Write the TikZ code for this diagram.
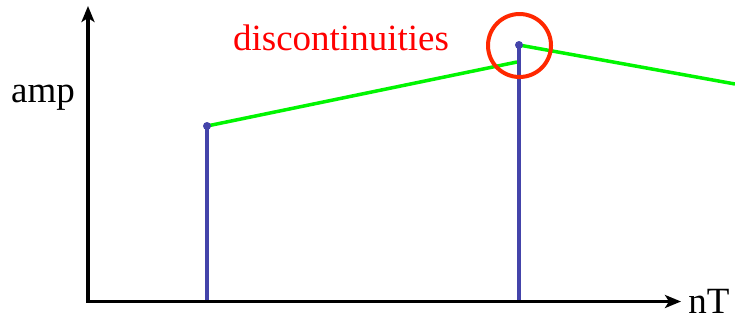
\documentclass[tikz,border=0pt]{standalone}
\usepackage{fontspec}
\setmainfont{Liberation Serif}
\usetikzlibrary{arrows.meta}
\definecolor{stemblue}{RGB}{68,68,170}
\definecolor{brightgreen}{RGB}{0,245,0}
\definecolor{circred}{RGB}{255,40,0}
\definecolor{txtred}{RGB}{255,0,0}
\begin{document}
\begin{tikzpicture}[x=1pt,y=-1pt,
  axis/.style={line width=3.5pt,-{Stealth[length=16pt,width=13pt,inset=4pt]}},
  stem/.style={line width=3.5pt,stemblue},
  seg/.style={line width=3.5pt,brightgreen},
  dotmark/.style={circle,fill=stemblue,inner sep=0pt,minimum size=8pt},
  lbl/.style={font=\fontsize{37}{44}\selectfont,anchor=base,inner sep=0pt}]
\useasboundingbox (0,0) rectangle (735,325);
\coordinate (O) at (88,301.5);
\coordinate (ytop) at (88,6);
\coordinate (xend) at (681,301.5);
\coordinate (b1) at (207,300);
\coordinate (b2) at (519,300);
\coordinate (t1) at (207,126);
\coordinate (t2) at (519,45);
\coordinate (g1e) at (517,62);
\coordinate (g2e) at (735,84);
\draw[seg] (t1) -- (g1e);
\draw[seg] (t2) -- (g2e);
\draw[stem] (b1) -- (t1);
\draw[stem] (b2) -- (t2);
\node[dotmark] (d1) at (t1) {};
\node[dotmark] (d2) at (t2) {};
\draw[axis] ([yshift=1.75pt]O) -- (ytop);
\draw[axis] ([xshift=-1.75pt]O) -- (xend);
\node[circle,draw=circred,line width=4pt,minimum size=63pt,inner sep=0pt] (circ) at (519.5,45.5) {};
\node[lbl,text=txtred] (disc) at (341,50) {discontinuities};
\node[lbl] (amp) at (43,102) {amp};
\node[lbl] (nT) at (709,313) {nT};
\end{tikzpicture}
\end{document}
